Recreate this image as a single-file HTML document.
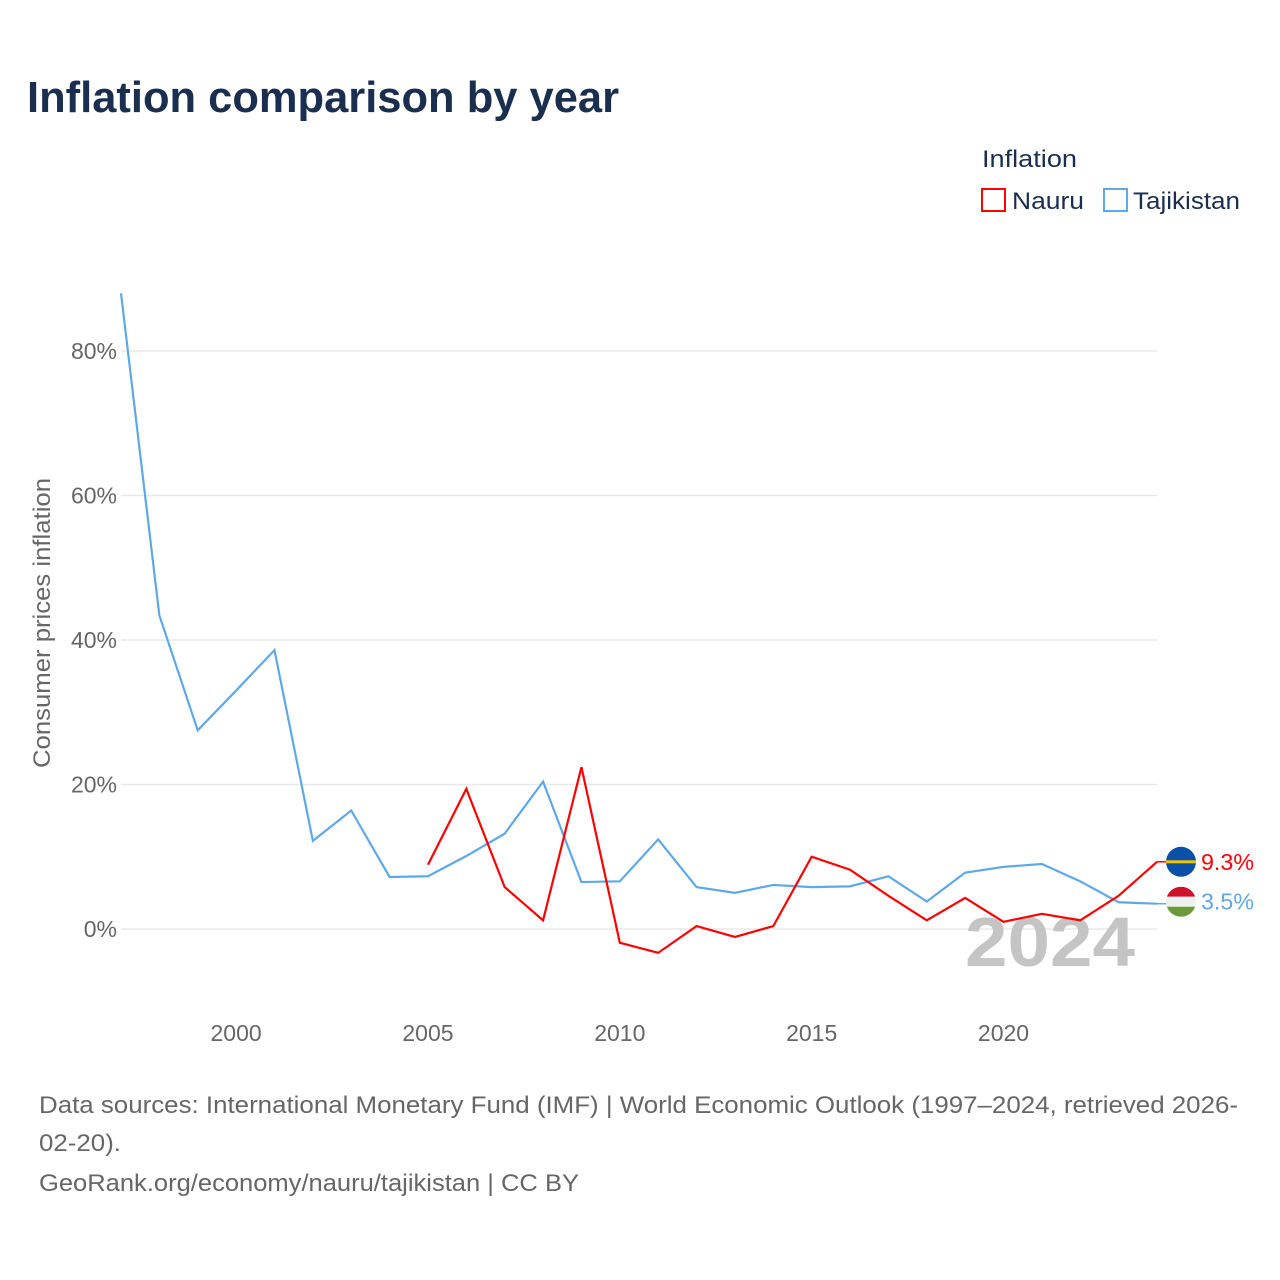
<!DOCTYPE html>
<html><head><meta charset="utf-8"><style>
body{margin:0;background:#fff;font-family:"Liberation Sans",sans-serif;}
#wrap{position:relative;width:1280px;height:1280px;overflow:hidden;}
</style></head><body>
<div id="wrap">
<svg id="chart" width="1280" height="1280"></svg>
</div>
<script>
const years=[1997,1998,1999,2000,2001,2002,2003,2004,2005,2006,2007,2008,2009,2010,2011,2012,2013,2014,2015,2016,2017,2018,2019,2020,2021,2022,2023,2024];
const tajikistan=[88.0,43.4,27.5,33.0,38.6,12.2,16.4,7.2,7.3,10.1,13.2,20.4,6.5,6.6,12.4,5.8,5.0,6.1,5.8,5.9,7.3,3.8,7.8,8.6,9.0,6.6,3.7,3.5];
const nauruYears=[2005,2006,2007,2008,2009,2010,2011,2012,2013,2014,2015,2016,2017,2018,2019,2020,2021,2022,2023,2024];
const nauru=[8.9,19.4,5.8,1.2,22.4,-1.9,-3.3,0.4,-1.1,0.4,10.0,8.2,4.6,1.2,4.3,1.0,2.1,1.2,4.6,9.3];
const yTicks=[0,20,40,60,80];
const yTickLabels=["0%","20%","40%","60%","80%"];
const xTicks=[2000,2005,2010,2015,2020];

const NS="http://www.w3.org/2000/svg";
const svg=document.getElementById('chart');
const X=y=>121+(y-1997)*(1157-121)/27;
const Y=v=>929-v*(929-351)/80;
function el(t,a,txt){const e=document.createElementNS(NS,t);for(const k in a)e.setAttribute(k,a[k]);if(txt!==undefined)e.textContent=txt;svg.appendChild(e);return e;}
const F='"Liberation Sans",sans-serif';

let e;
e=el('text',{x:27,y:112,'font-size':44,'font-weight':'bold',fill:'#1a2e50','font-family':F,textLength:592,lengthAdjust:'spacingAndGlyphs'},'Inflation comparison by year');

e=el('text',{x:982,y:167,'font-size':24,fill:'#1a2e50','font-family':F,textLength:95,lengthAdjust:'spacingAndGlyphs'},'Inflation');

e=el('rect',{x:982,y:189,width:23,height:22,fill:'none',stroke:'#ff0000','stroke-width':2});

e=el('text',{x:1012,y:209,'font-size':24,fill:'#1a2e50','font-family':F,textLength:72,lengthAdjust:'spacingAndGlyphs'},'Nauru');

e=el('rect',{x:1104,y:189,width:23,height:22,fill:'none',stroke:'#5fa8e8','stroke-width':2});

e=el('text',{x:1133,y:209,'font-size':24,fill:'#1a2e50','font-family':F,textLength:107,lengthAdjust:'spacingAndGlyphs'},'Tajikistan');


yTicks.forEach((v,i)=>{
 e=el('line',{x1:121,x2:1157,y1:Y(v),y2:Y(v),stroke:'#e8e8e8','stroke-width':1.5});
 
 e=el('text',{x:117,y:Y(v)+8,'font-size':23,fill:'#666','text-anchor':'end','font-family':F},yTickLabels[i]);
 
});
xTicks.forEach(v=>{
 e=el('text',{x:X(v),y:1041,'font-size':23,fill:'#666','text-anchor':'middle','font-family':F},String(v));
 
});
e=el('text',{x:0,y:0,'font-size':24,fill:'#666','text-anchor':'middle','font-family':F,transform:'translate(50,623) rotate(-90)',textLength:290,lengthAdjust:'spacingAndGlyphs'},'Consumer prices inflation');

e=el('text',{x:1135,y:966,'font-size':70,'font-weight':'bold',fill:'#c4c4c4','text-anchor':'end','font-family':F,textLength:170,lengthAdjust:'spacingAndGlyphs'},'2024');


e=el('polyline',{points:years.map((y,i)=>X(y)+','+Y(tajikistan[i])).join(' '),fill:'none',stroke:'#5fa8e8','stroke-width':2.2});

e=el('polyline',{points:nauruYears.map((y,i)=>X(y)+','+Y(nauru[i])).join(' '),fill:'none',stroke:'#ff0000','stroke-width':2.2});


const nY=Y(nauru[nauru.length-1]), tY=Y(tajikistan[tajikistan.length-1]);
e=el('line',{x1:1157,x2:1168,y1:nY,y2:nY,stroke:'#ff0000','stroke-width':1.5});

e=el('circle',{cx:1181,cy:nY,r:15,fill:'#0a4fa8'});

e=el('rect',{x:1166,y:nY-1.5,width:30,height:3,fill:'#f5c400'});

e=el('text',{x:1201,y:nY+8,'font-size':23,fill:'#ff0000','font-family':F,textLength:53,lengthAdjust:'spacingAndGlyphs'},nauru[nauru.length-1].toFixed(1)+'%');

e=el('line',{x1:1157,x2:1168,y1:tY,y2:tY,stroke:'#5fa8e8','stroke-width':1.5});

const ty=tY-2;
e=el('clipPath',{id:'tjclip'});
const c=document.createElementNS(NS,'circle');c.setAttribute('cx',1181);c.setAttribute('cy',ty);c.setAttribute('r',15);e.appendChild(c);
e=el('rect',{x:1166,y:ty-15,width:30,height:10,fill:'#d0102a','clip-path':'url(#tjclip)'});

e=el('rect',{x:1166,y:ty-5,width:30,height:10,fill:'#f0f0f0','clip-path':'url(#tjclip)'});

e=el('rect',{x:1166,y:ty+5,width:30,height:10,fill:'#6a9a3a','clip-path':'url(#tjclip)'});

e=el('text',{x:1201,y:tY+6,'font-size':23,fill:'#5fa8e8','font-family':F,textLength:53,lengthAdjust:'spacingAndGlyphs'},tajikistan[tajikistan.length-1].toFixed(1)+'%');


const foot=[['Data sources: International Monetary Fund (IMF) | World Economic Outlook (1997–2024, retrieved 2026-',1113,1199],['02-20).',1151,82],['GeoRank.org/economy/nauru/tajikistan | CC BY',1191,540]];
foot.forEach(f=>{e=el('text',{x:39,y:f[1],'font-size':24,fill:'#666','font-family':F,textLength:f[2],lengthAdjust:'spacingAndGlyphs'},f[0]);
 });
</script>
</body></html>
